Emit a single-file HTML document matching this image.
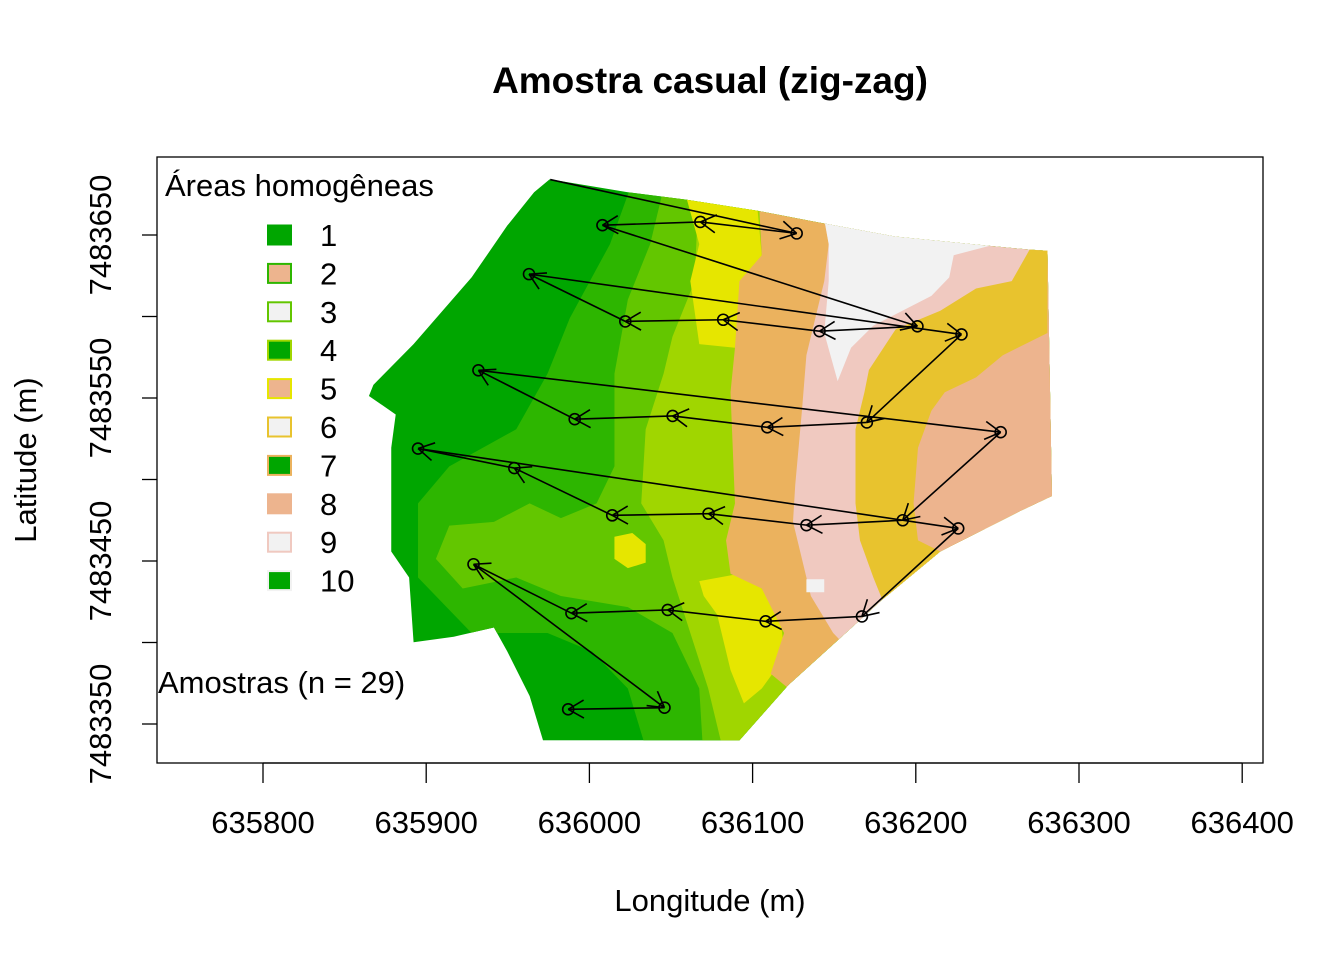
<!DOCTYPE html>
<html><head><meta charset="utf-8"><style>
body{margin:0;background:#fff}
svg{display:block;font-family:"Liberation Sans",sans-serif}
</style></head><body>
<svg id="chart" width="1344" height="960" viewBox="0 0 1344 960" xmlns="http://www.w3.org/2000/svg">
<defs>
<clipPath id="outer"><polygon points="425,25 600,60 730,80 890,110 1020,140 1200,180 1410,205 1500,215 1540,218 1550,880 1480,920 1300,1030 1170,1160 1070,1270 960,1390 850,1540 410,1540 380,1420 330,1300 300,1235 210,1260 120,1275 110,1100 70,1030 70,750 80,660 20,610 30,580 120,470 250,290 330,150 390,60"/></clipPath>
<clipPath id="plotclip"><rect x="157" y="157" width="1106" height="606"/></clipPath>
</defs>
<text x="710" y="93" text-anchor="middle" font-size="37" font-weight="bold">Amostra casual (zig-zag)</text>
<g transform="translate(360,170) scale(0.4464,0.3704)">
<g clip-path="url(#outer)">
<rect x="0" y="0" width="1600" height="1600" fill="#00A600"/>
<polygon fill="#2DB600" points="620,0 560,200 470,400 420,550 350,700 200,800 130,900 130,1100 250,1250 420,1250 520,1300 600,1400 650,1600 2000,1600 2000,0"/>
<polygon fill="#63C600" points="690,0 650,200 600,350 570,550 570,800 530,900 450,940 380,900 300,950 200,960 170,1050 230,1130 350,1100 450,1150 600,1180 700,1250 760,1400 770,1600 2000,1600 2000,0"/>
<polygon fill="#A0D600" points="760,0 750,300 700,450 680,550 640,700 630,900 680,1000 700,1100 780,1400 820,1600 2000,1600 2000,0"/>
<polygon fill="#E6E600" points="730,70 890,100 900,230 870,300 840,480 760,470 740,300 760,200"/>
<polygon fill="#E6E600" points="760,1110 850,1090 900,1130 940,1200 950,1290 930,1350 900,1400 860,1440 830,1350 800,1200 770,1150"/>
<polygon fill="#E6E600" points="570,990 610,980 640,1010 640,1060 600,1075 570,1050"/>
<polygon fill="#EBB25E" points="890,0 900,230 850,300 840,480 830,600 840,900 820,1000 830,1090 900,1130 950,1250 920,1360 960,1400 2000,1600 2000,0"/>
<polygon fill="#F0C9C0" points="1020,0 1050,200 1040,300 1020,400 1000,500 990,650 975,850 970,950 990,1050 1010,1150 1060,1250 1100,1300 2000,1600 2000,0"/>
<polygon fill="#F2F2F2" points="1020,0 1420,0 1410,205 1330,230 1320,290 1280,340 1150,420 1100,480 1070,570 1040,440 1050,300 1050,200"/>
<polygon fill="#F2F2F2" points="1000,1105 1040,1105 1040,1140 1000,1140"/>
<polygon fill="#E8C32E" points="1500,0 1500,215 1460,300 1380,320 1300,380 1200,430 1140,540 1130,600 1110,700 1110,900 1120,1000 1150,1100 1170,1160 2000,1600 2000,0"/>
<polygon fill="#EDB48E" points="1540,0 1540,440 1440,500 1380,560 1310,600 1280,650 1250,750 1240,900 1250,1000 1300,1030 2000,1600 2000,0"/>
</g>
</g>
<rect x="157" y="157" width="1106" height="606" fill="none" stroke="#000" stroke-width="1.3"/>
<g id="axes"></g>
<g id="marks" clip-path="url(#plotclip)"></g>
<g>
<text x="165" y="196" font-size="31">Áreas homogêneas</text>
<g id="legend-items"></g>
<text x="158" y="693" font-size="31">Amostras (n = 29)</text>
</g>
<text x="710" y="911" text-anchor="middle" font-size="31">Longitude (m)</text>
<text transform="translate(36,460) rotate(-90)" text-anchor="middle" font-size="31">Latitude (m)</text>
</svg>
<script>
const xTicks = [635800,635900,636000,636100,636200,636300,636400];
const yTicks = [7483350,7483400,7483450,7483500,7483550,7483600,7483650];
const yTickLabels = [7483350,7483450,7483550,7483650];
const startPoint = [635976,7483684];
const sampleX = [636127,636068,636008,636201,636141,636082,636022,635963,636228,636170,636109,636051,635991,635932,636252,636192,636133,636073,636014,635954,635895,636226,636167,636108,636048,635989,635929,636046,635987];
const sampleY = [7483651,7483658,7483656,7483594,7483591,7483598,7483597,7483626,7483589,7483535,7483532,7483539,7483537,7483567,7483529,7483475,7483472,7483479,7483478,7483507,7483519,7483470,7483416,7483413,7483420,7483418,7483448,7483360,7483359];
const legendLabels = ['1','2','3','4','5','6','7','8','9','10'];
const legendFill = ['#00A600','#EDB48E','#F2F2F2','#00A600','#EDB48E','#F2F2F2','#00A600','#EDB48E','#F2F2F2','#00A600'];
const legendBorder = ['#00A600','#2DB600','#63C600','#A0D600','#E6E600','#E8C32E','#EBB25E','#EDB48E','#F0C9C0','#F2F2F2'];

const NS='http://www.w3.org/2000/svg';
const sx = v => 263 + (v-635800)*1.632;
const sy = v => 235 - (v-7483650)*1.63;
function mk(tag, attrs, parent){const e=document.createElementNS(NS,tag);for(const k in attrs)e.setAttribute(k,attrs[k]);parent.appendChild(e);return e;}
const axes=document.getElementById('axes');
xTicks.forEach(t=>{
  const l=mk('line',{x1:sx(t),x2:sx(t),y1:763,y2:783,stroke:'#000','stroke-width':1.3},axes);
  
  
  const tx=mk('text',{x:sx(t),y:833,'text-anchor':'middle','font-size':31},axes);
  tx.textContent=t;
  
  
});
mk('line',{x1:sx(635800),x2:sx(636400),y1:763,y2:763,stroke:'#000','stroke-width':1.3},axes);
yTicks.forEach(t=>{
  const l=mk('line',{x1:142,x2:157,y1:sy(t),y2:sy(t),stroke:'#000','stroke-width':1.3},axes);
  
  
});
yTickLabels.forEach(t=>{
  const tx=mk('text',{transform:`translate(111,${sy(t)}) rotate(-90)`,'text-anchor':'middle','font-size':31},axes);
  tx.textContent=t;
  
  
});
const marks=document.getElementById('marks');
function arrow(x0,y0,x1,y1){
  const g=mk('g',{stroke:'#000','stroke-width':1.6,fill:'none'},marks);
  
  
  mk('line',{x1:x0,y1:y0,x2:x1,y2:y1},g);
  const a=Math.atan2(y1-y0,x1-x0),L=18,h=Math.PI/6;
  [a+Math.PI-h,a+Math.PI+h].forEach(b=>mk('line',{x1:x1,y1:y1,x2:x1+L*Math.cos(b),y2:y1+L*Math.sin(b)},g));
}
let px=sx(startPoint[0]),py=sy(startPoint[1]);
for(let i=0;i<sampleX.length;i++){
  const nx=sx(sampleX[i]),ny=sy(sampleY[i]);
  arrow(px,py,nx,ny);px=nx;py=ny;
}
for(let i=0;i<sampleX.length;i++){
  const c=mk('circle',{cx:sx(sampleX[i]),cy:sy(sampleY[i]),r:5.5,fill:'none',stroke:'#000','stroke-width':1.6},marks);
  
  
}
const li=document.getElementById('legend-items');
legendLabels.forEach((lab,i)=>{
  const y=235+i*38.4;
  const r=mk('rect',{x:268,y:y-9.5,width:23,height:19,fill:legendFill[i],stroke:legendBorder[i],'stroke-width':2},li);
  
  
  const t=mk('text',{x:320,y:y+11,'font-size':31},li);
  t.textContent=lab;
  
  
});
</script>
</body></html>
